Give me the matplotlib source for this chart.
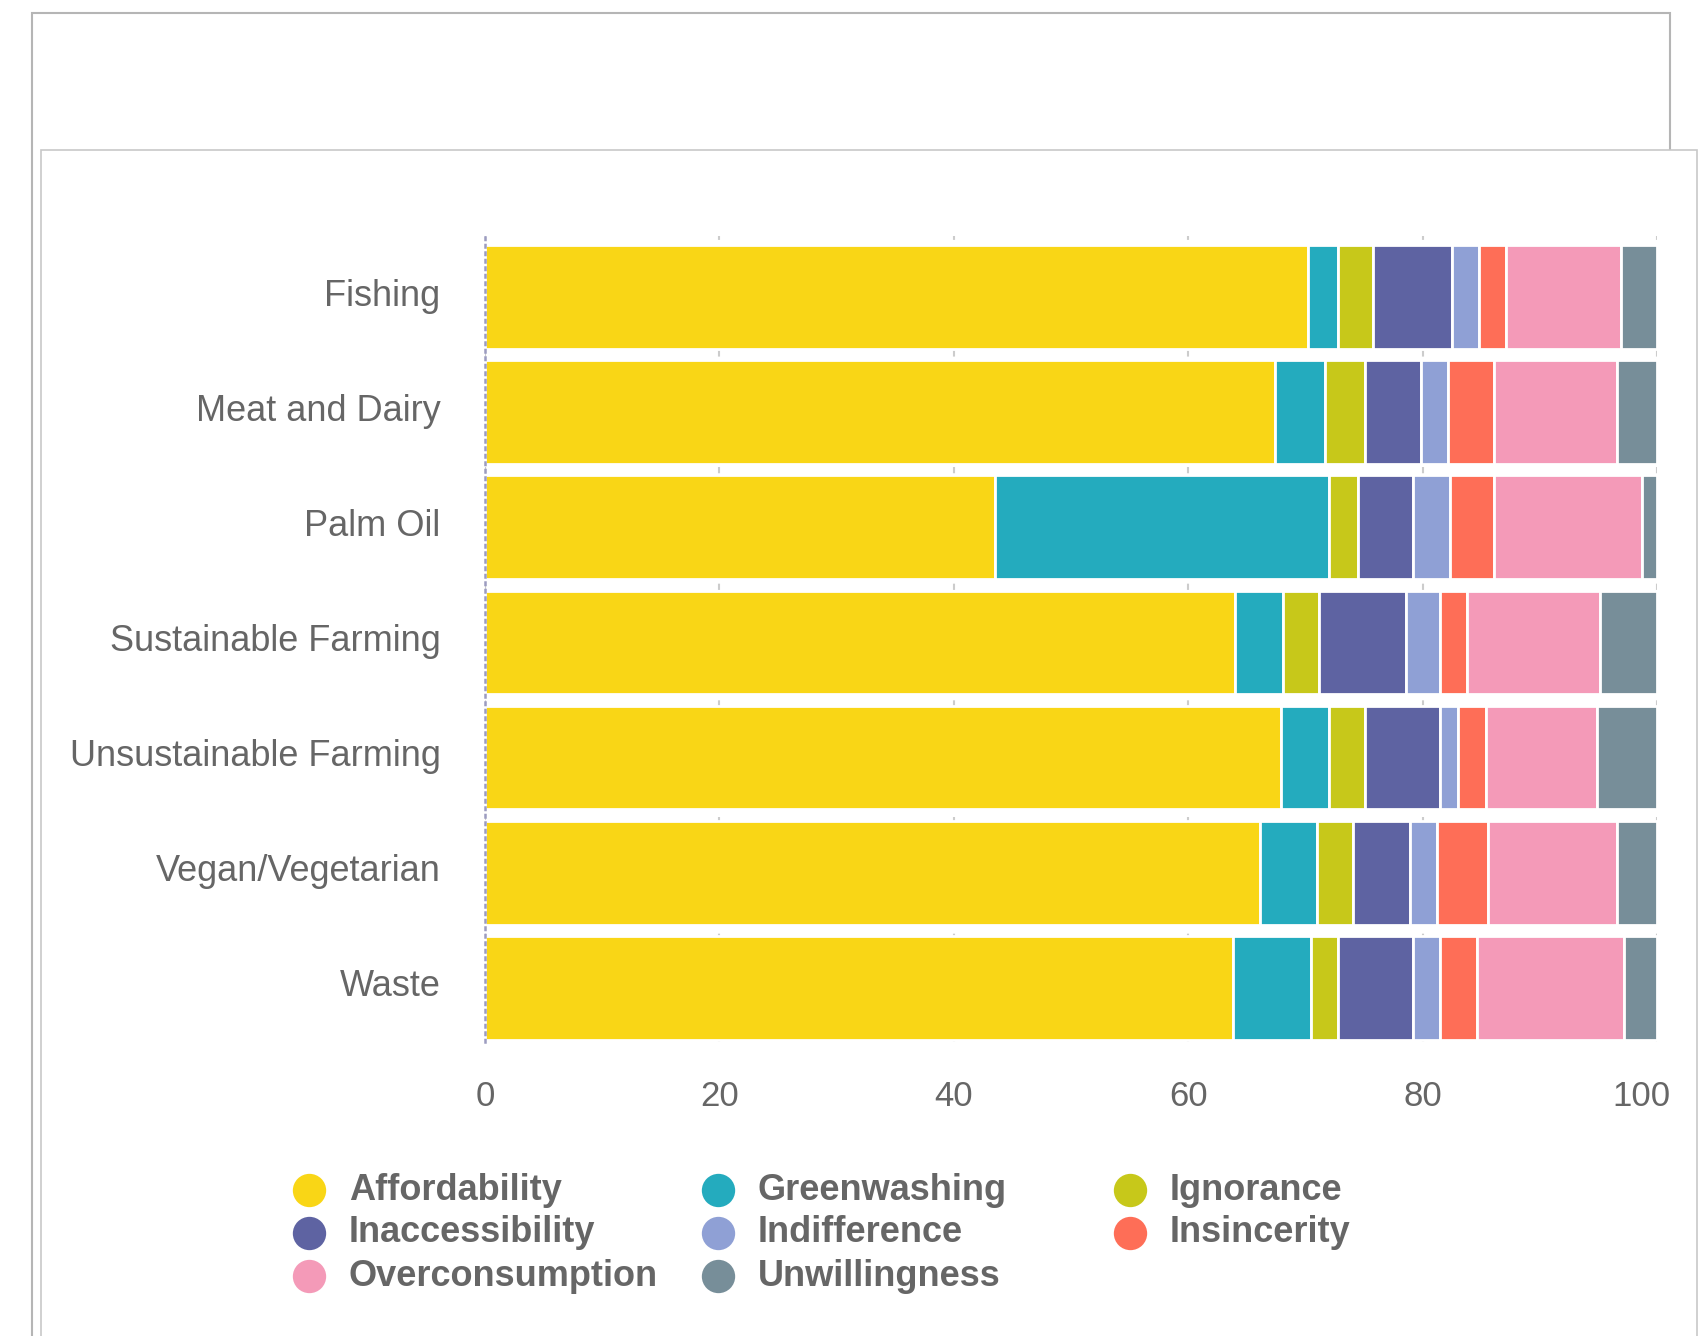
import matplotlib
matplotlib.use("Agg")
import matplotlib.pyplot as plt
from matplotlib.patches import Rectangle
from matplotlib.transforms import ScaledTranslation

plt.rcParams['font.family'] = ['Liberation Sans', 'DejaVu Sans']

categories = ['Fishing', 'Meat and Dairy', 'Palm Oil', 'Sustainable Farming',
              'Unsustainable Farming', 'Vegan/Vegetarian', 'Waste']
series = ['Affordability', 'Greenwashing', 'Ignorance', 'Inaccessibility',
          'Indifference', 'Insincerity', 'Overconsumption', 'Unwillingness']
colors = ['#F9D616', '#24ABBE', '#C7C81A', '#5E63A2',
          '#8FA0D5', '#FE6E57', '#F49AB8', '#778E99']

affordability = [70.2, 67.4, 43.5, 64.0, 67.9, 66.1, 63.8]
greenwashing = [2.6, 4.3, 28.5, 4.1, 4.1, 4.9, 6.7]
ignorance = [3.0, 3.4, 2.5, 3.1, 3.1, 3.1, 2.3]
inaccessibility = [6.7, 4.8, 4.7, 7.4, 6.4, 4.8, 6.4]
indifference = [2.3, 2.3, 3.1, 2.9, 1.5, 2.3, 2.3]
insincerity = [2.3, 3.9, 3.8, 2.3, 2.4, 4.4, 3.1]
overconsumption = [9.8, 10.5, 12.6, 11.3, 9.5, 11.0, 12.6]
unwillingness = [3.1, 3.4, 1.3, 4.9, 5.1, 3.4, 2.8]
values = [affordability, greenwashing, ignorance, inaccessibility,
          indifference, insincerity, overconsumption, unwillingness]

xticks = [0, 20, 40, 60, 80, 100]

W, H = 1698, 1336
fig = plt.figure(figsize=(W / 100, H / 100), dpi=100)
grey = '#666666'

# the two card frames behind the chart
fig.add_artist(Rectangle((32 / W, -0.1), (1670 - 32) / W, 1.1 - 13 / H,
                         transform=fig.transFigure, fill=False,
                         edgecolor='#b5b5b5', lw=1.5, zorder=0))
fig.add_artist(Rectangle((41 / W, -0.1), (1697 - 41) / W, 1.1 - 150 / H,
                         transform=fig.transFigure, facecolor='white',
                         edgecolor='#c8c8c8', lw=1.2, zorder=1))

ax = fig.add_axes([485 / W, 1 - 1042 / H, (1657 - 485) / W, (1042 - 236) / H])
ax.set_zorder(2)
ax.patch.set_alpha(0)

pos = list(range(len(categories)))
left = [0] * len(categories)
for name, vals, c in zip(series, values, colors):
    ax.barh(pos, vals, left=left, height=0.9, color=c, edgecolor='white',
            linewidth=2, label=name, zorder=3)
    left = [l + v for l, v in zip(left, vals)]

ax.set_xlim(0, 100)
ax.set_ylim(6.47, -0.53)
ax.set_xticks(xticks)
ax.set_yticks(pos)
ax.set_yticklabels(categories)
ax.tick_params(axis='x', length=0, pad=27, labelsize=25, labelcolor=grey)
ax.tick_params(axis='y', length=0, pad=32, labelsize=26, labelcolor=grey)
ax.grid(axis='x', color='#cccccc', linestyle=(0, (3, 4)), lw=1.5, zorder=0)
for s in ['top', 'right', 'bottom']:
    ax.spines[s].set_visible(False)
ax.spines['left'].set_color('#9c9cc0')
ax.spines['left'].set_linestyle((0, (1, 2)))
ax.spines['left'].set_linewidth(1.8)
ax.spines['left'].set_zorder(4)

# labels sit a little above the bar centres in the original
up = ScaledTranslation(0, 5 / 100, fig.dpi_scale_trans)
for lab in ax.get_yticklabels():
    lab.set_transform(lab.get_transform() + up)
# last x label pulled inside the card
last = ax.get_xticklabels()[-1]
last.set_transform(last.get_transform() + ScaledTranslation(-16 / 100, 0, fig.dpi_scale_trans))

# legend, row-major in three columns
lax = fig.add_axes([0, 0, 1, 1])
lax.set_zorder(3)
lax.set_xlim(0, W)
lax.set_ylim(H, 0)
lax.axis('off')
col_x = [309, 718, 1130]
row_y = [1190, 1233, 1276]
for i, (name, c) in enumerate(zip(series, colors)):
    cx = col_x[i % 3]
    cy = row_y[i // 3]
    lax.plot(cx, cy, 'o', color=c, markersize=24, markeredgewidth=0)
    lax.text(cx + 40, cy, name, fontsize=26, fontweight='bold', color=grey,
             va='center', ha='left')

fig.savefig('out.png', dpi=100)
